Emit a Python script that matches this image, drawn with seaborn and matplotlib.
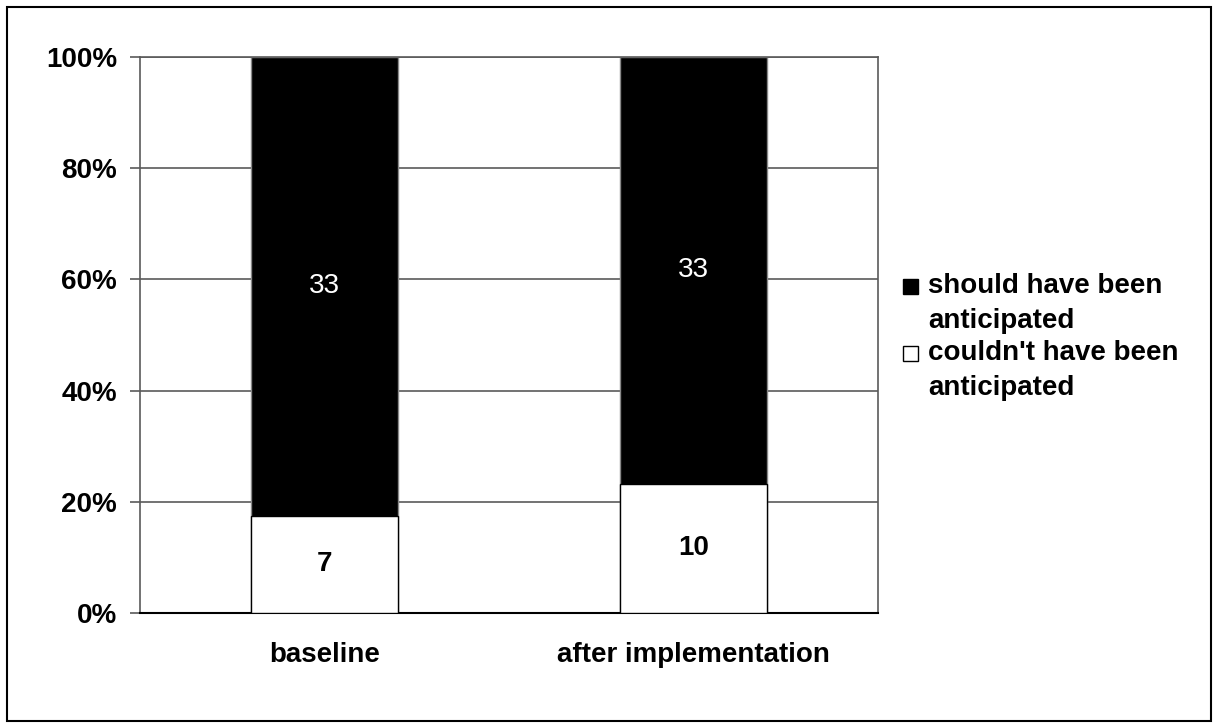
import matplotlib.pyplot as plt
import pandas as pd
import seaborn as sns
from matplotlib.patches import Rectangle

sns.set_theme(style='white')
plt.rcParams['font.family'] = ['Liberation Sans', 'DejaVu Sans']
plt.rcParams['text.color'] = 'black'
plt.rcParams['xtick.color'] = 'black'
plt.rcParams['ytick.color'] = 'black'

categories = ['baseline', 'after implementation']
should_counts = [33, 33]
couldnt_counts = [7, 10]
legend_labels = [['should have been', 'anticipated'], ["couldn't have been", 'anticipated']]

df = pd.DataFrame({'phase': categories, 'should': should_counts, 'couldnt': couldnt_counts})
df['total'] = df['should'] + df['couldnt']
df['couldnt_pct'] = df['couldnt'] / df['total'] * 100
df['full_pct'] = 100.0

W, H = 1218, 728
fig = plt.figure(figsize=(W / 100, H / 100), dpi=100)
ax = fig.add_axes([140 / W, 1 - 613 / H, 738 / W, 556 / H])

grid_c = '#5a5a5a'
fs = 20
for yv in range(20, 101, 20):
    ax.axhline(yv, color=grid_c, lw=1.2, zorder=0)

sns.barplot(data=df, x='phase', y='full_pct', color='black', width=0.4,
            edgecolor='#888888', linewidth=1, saturation=1, ax=ax, zorder=2)
sns.barplot(data=df, x='phase', y='couldnt_pct', color='white', width=0.4,
            edgecolor='black', linewidth=1, saturation=1, ax=ax, zorder=3)

for i, row in df.iterrows():
    ax.text(i, row['couldnt_pct'] / 2, str(row['couldnt']), ha='center', va='center',
            fontsize=fs, fontweight='bold', color='black', zorder=4)
    ax.text(i, (row['couldnt_pct'] + 100) / 2, str(row['should']), ha='center', va='center',
            fontsize=fs, color='white', zorder=4)

ax.set_xlim(-0.5, 1.5)
ax.set_ylim(0, 100)
ax.set_yticks(range(0, 101, 20))
ax.set_yticklabels([f'{v}%' for v in range(0, 101, 20)], fontsize=fs, fontweight='bold')
ax.set_xticks([0, 1])
ax.set_xticklabels(categories, fontsize=fs, fontweight='bold')
ax.set_xticks([-0.5, 0.5, 1.5], minor=True)
ax.tick_params(axis='x', which='major', length=0, pad=21)
ax.tick_params(axis='x', which='minor', length=7, width=1.2, color=grid_c, direction='out')
ax.tick_params(axis='y', length=7, width=1.2, color=grid_c, direction='out', pad=9.5, left=True)
ax.set_xlabel('')
ax.set_ylabel('')

for side in ['left', 'right', 'top']:
    ax.spines[side].set_color(grid_c)
    ax.spines[side].set_linewidth(1.2)
ax.spines['bottom'].set_color('black')
ax.spines['bottom'].set_linewidth(1.5)

# legend: swatch next to the first line of each two-line label
swatch_fill = ['black', 'white']
baselines = [(293, 328), (360, 395)]
for fill, lines, (b1, b2) in zip(swatch_fill, legend_labels, baselines):
    fig.patches.append(Rectangle((903 / W, 1 - (b1 + 1) / H), 15 / W, 15 / H,
                                 transform=fig.transFigure, facecolor=fill,
                                 edgecolor='black', linewidth=1))
    fig.text(928 / W, 1 - b1 / H, lines[0], fontsize=fs, fontweight='bold', va='baseline')
    fig.text(928 / W, 1 - b2 / H, lines[1], fontsize=fs, fontweight='bold', va='baseline')

fig.patches.append(Rectangle((7 / W, 7 / H), 1 - 14 / W, 1 - 14 / H, transform=fig.transFigure,
                             fill=False, edgecolor='black', linewidth=1.5))

fig.savefig('out.png', dpi=100)
